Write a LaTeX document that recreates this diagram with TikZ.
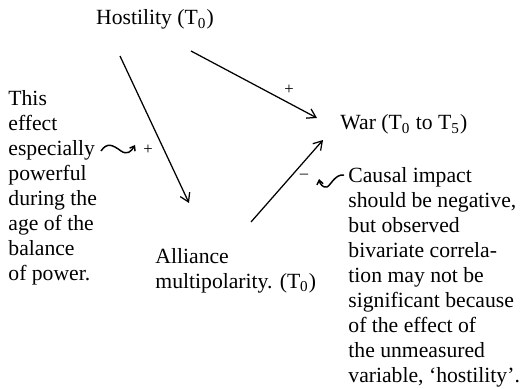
\documentclass[tikz,border=0pt]{standalone}
\usepackage{fontspec}
\setmainfont{Liberation Serif}
\usetikzlibrary{arrows.meta}

\begin{document}
\begin{tikzpicture}[x=0.48pt,y=-0.48pt,
  lbl/.style={inner sep=0pt,font=\fontsize{10.4}{12}\selectfont},
  para/.style={lbl,align=left,anchor=north west},
  link/.style={-{Straight Barb[length=4pt,width=5pt]},line width=0.6pt},
  sign/.style={inner sep=0pt,font=\footnotesize},
  curl/.style={-{Straight Barb[length=2pt,width=3pt]},line width=0.7pt}]
  \useasboundingbox (0,0) rectangle (524,389);
  \node[lbl,anchor=base] (host) at (155,25) {Hostility (T\textsubscript{0})};
  \node[lbl,anchor=base west] (war) at (340,130) {War (T\textsubscript{0} to T\textsubscript{5})};
  \node[para] (ally) at (155,248) {Alliance\\multipolarity. (T\textsubscript{0})};
  \node[para] (leftnote) at (8,90) {This\\effect\\especially\\powerful\\during the\\age of the\\balance\\of power.};
  \node[para] (rightnote) at (348,167) {Causal impact\\should be negative,\\but observed\\bivariate correla-\\tion may not be\\significant because\\of the effect of\\the unmeasured\\variable, `hostility'.};
  \coordinate (hostA) at (120,56);
  \coordinate (allyA) at (189,203);
  \coordinate (hostW) at (191,51);
  \coordinate (warH) at (317,118);
  \coordinate (allyW) at (251,222);
  \coordinate (warA) at (323,140);
  \draw[link] (hostA) -- (allyA);
  \draw[link] (hostW) -- (warH);
  \draw[link] (allyW) -- (warA);
  \node[sign] (plusW) at (289,90) {+};
  \node[sign] (plusA) at (148,150) {+};
  \node[sign] (minus) at (304,176) {--};
  \coordinate (curlL) at (101,151);
  \coordinate (curlR) at (344,175);
  \draw[curl] (curlL) .. controls (107,142) and (113,145) .. (121,151)
    .. controls (127,155) and (131,152) .. (135,145);
  \draw[curl] (curlR) .. controls (335,174) and (331,185) .. (327,187)
    .. controls (323,188) and (320,184) .. (319,179);
\end{tikzpicture}
\end{document}
